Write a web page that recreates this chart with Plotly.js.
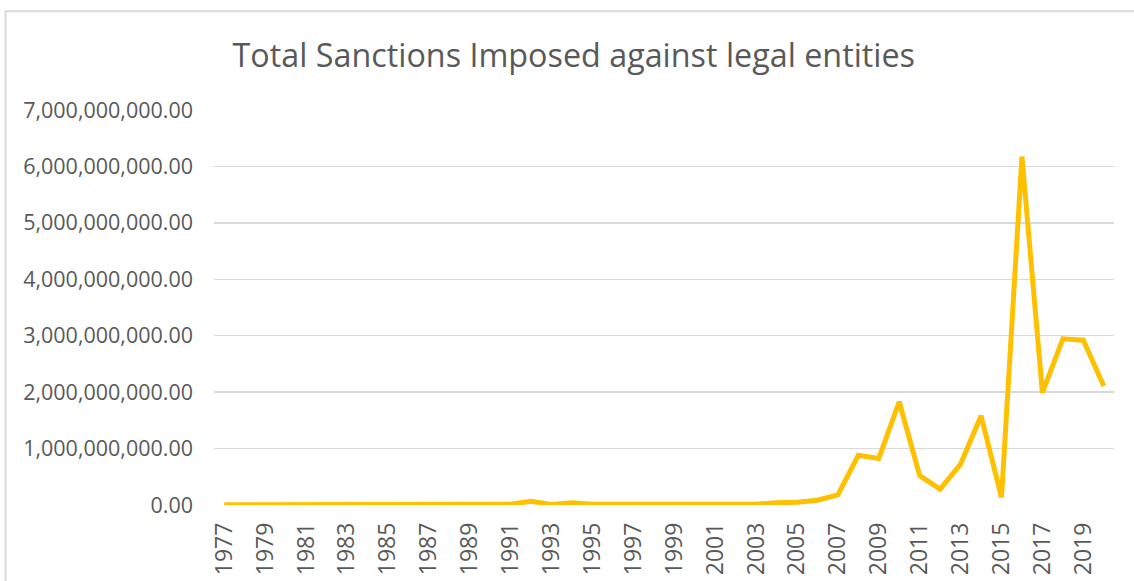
<!DOCTYPE html>
<html>
<head>
<meta charset="utf-8">
<script src="https://cdn.plot.ly/plotly-3.0.1.min.js"></script>
<style>
  html, body { margin: 0; padding: 0; background: #fff; overflow: hidden; }
  #chart { width: 1134px; height: 581px; }
</style>
</head>
<body>
<div id="chart"></div>
<script>
// ---- data ----
const years = [1977,1978,1979,1980,1981,1982,1983,1984,1985,1986,1987,1988,1989,1990,1991,
               1992,1993,1994,1995,1996,1997,1998,1999,2000,2001,2002,2003,2004,2005,2006,
               2007,2008,2009,2010,2011,2012,2013,2014,2015,2016,2017,2018,2019,2020];
const sanctions = [5e6,4e6,6e6,8e6,12e6,10e6,8e6,9e6,10e6,8e6,9e6,8e6,10e6,8e6,12e6,
                   67e6,10e6,40e6,15e6,15e6,15e6,15e6,30e6,15e6,12e6,15e6,15e6,40e6,50e6,85e6,
                   180e6,880e6,825e6,1830e6,520e6,280e6,725e6,1580e6,135e6,6175e6,1990e6,2945e6,2920e6,2110e6];
const tickYears = [1977,1979,1981,1983,1985,1987,1989,1991,1993,1995,1997,1999,2001,2003,2005,2007,2009,2011,2013,2015,2017,2019];
const tickLabels = tickYears.map(String);
const yTicks = [0,1e9,2e9,3e9,4e9,5e9,6e9,7e9];
const titleText = "Total Sanctions Imposed against legal entities";

const fontFam = "Open Sans, sans-serif";
const grey = "#595959";

const trace = {
  x: years,
  y: sanctions,
  type: "scatter",
  mode: "lines",
  line: { color: "#FFC000", width: 5 },
  hoverinfo: "x+y"
};

const layout = {
  width: 1134,
  height: 581,
  margin: { l: 214, r: 20, t: 109.5, b: 75.5, pad: 0 },
  paper_bgcolor: "#ffffff",
  plot_bgcolor: "#ffffff",
  showlegend: false,
  title: {
    text: titleText,
    font: { family: fontFam, size: 32.3, color: grey },
    xref: "container", x: 0.506, xanchor: "center",
    yref: "container", y: 1 - 56/581, yanchor: "middle"
  },
  xaxis: {
    range: [1976.5, 2020.5],
    tickmode: "array",
    tickvals: tickYears,
    ticktext: tickLabels,
    tickangle: -90,
    tickfont: { family: fontFam, size: 23, color: grey },
    showgrid: false,
    zeroline: false,
    showline: false,
    ticks: "",
    ticklabelstandoff: 12
  },
  yaxis: {
    range: [0, 7e9],
    tickmode: "array",
    tickvals: yTicks,
    tickformat: ",.2f",
    tickfont: { family: fontFam, size: 21.5, color: grey },
    showgrid: true,
    gridcolor: "#d9d9d9",
    gridwidth: 1.5,
    zeroline: false,
    showline: false,
    ticks: "",
    ticklabelstandoff: 20
  },
  shapes: [{
    type: "rect", xref: "paper", yref: "paper",
    x0: (5.5 - 214) / 900, x1: 2,
    y0: -1, y1: (505.5 - 10.5) / 396,
    line: { color: "#d9d9d9", width: 2 },
    fillcolor: "rgba(0,0,0,0)",
    layer: "below"
  }]
};

Plotly.newPlot("chart", [trace], layout, { displayModeBar: false, staticPlot: true });
</script>
</body>
</html>
